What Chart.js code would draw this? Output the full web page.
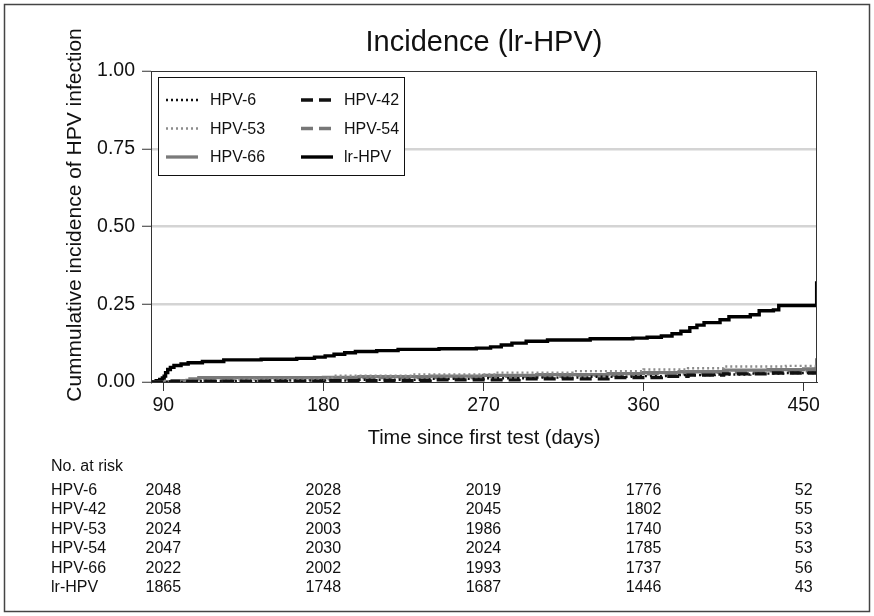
<!DOCTYPE html>
<html>
<head>
<meta charset="utf-8">
<title>Incidence (lr-HPV)</title>
<script src="https://cdn.jsdelivr.net/npm/chart.js@4.4.1/dist/chart.umd.min.js"></script>
<style>
  html, body { margin: 0; padding: 0; background: #fff; }
  #c { display: block; }
</style>
</head>
<body>
<canvas id="c" width="874" height="616"></canvas>
<script>
// Axis ticks
const xTickDays = [90, 180, 270, 360, 450];
const yTickValues = [0, 0.25, 0.5, 0.75, 1];

// Cumulative incidence step curves: day of change and cumulative value
const hpv6Days = [83, 110, 150, 200, 240, 270, 300, 330, 355, 380, 400, 420, 440, 457];
const hpv6Cum  = [0, 0.003, 0.005, 0.007, 0.010, 0.012, 0.014, 0.017, 0.019, 0.022, 0.024, 0.027, 0.029, 0.030];

const hpv42Days = [83, 95, 180, 240, 290, 340, 370, 385, 405, 430, 457];
const hpv42Cum  = [0, 0.002, 0.004, 0.007, 0.010, 0.014, 0.018, 0.022, 0.026, 0.029, 0.030];

const hpv53Days = [83, 100, 130, 182, 185, 230, 277, 320, 360, 385, 405, 440, 457];
const hpv53Cum  = [0, 0.004, 0.008, 0.012, 0.020, 0.024, 0.030, 0.035, 0.040, 0.044, 0.050, 0.052, 0.053];

const hpv54Days = [83, 100, 182, 200, 270, 320, 360, 400, 430, 457];
const hpv54Cum  = [0, 0.005, 0.010, 0.014, 0.018, 0.022, 0.026, 0.032, 0.036, 0.038];

const hpv66Days = [83, 95, 105, 110, 180, 200, 240, 270, 300, 340, 360, 380, 405, 430, 450, 457, 457.3];
const hpv66Cum  = [0, 0.004, 0.010, 0.014, 0.015, 0.017, 0.019, 0.021, 0.024, 0.027, 0.030, 0.033, 0.038, 0.040, 0.042, 0.044, 0.076];

const lrHpvDays = [83, 86, 88, 89.5, 90.5, 91.3, 92.5, 94, 96, 100, 104, 112, 124, 145, 165, 175, 181, 186, 192, 198, 210, 222, 245, 266, 274, 280, 286, 294, 306, 330, 354, 362, 370, 376, 381, 386, 390, 394, 403, 408, 420, 425, 433, 436, 457, 457.3];
const lrHpvCum  = [0, 0.004, 0.008, 0.013, 0.019, 0.030, 0.040, 0.047, 0.053, 0.058, 0.062, 0.066, 0.071, 0.073, 0.076, 0.080, 0.084, 0.089, 0.094, 0.098, 0.101, 0.105, 0.107, 0.109, 0.113, 0.119, 0.125, 0.131, 0.135, 0.139, 0.141, 0.144, 0.148, 0.155, 0.163, 0.175, 0.183, 0.191, 0.200, 0.210, 0.216, 0.229, 0.232, 0.246, 0.246, 0.324];

// Number at risk table
const riskDays = [90, 180, 270, 360, 450];
const riskHpv6  = [2048, 2028, 2019, 1776, 52];
const riskHpv42 = [2058, 2052, 2045, 1802, 55];
const riskHpv53 = [2024, 2003, 1986, 1740, 53];
const riskHpv54 = [2047, 2030, 2024, 1785, 53];
const riskHpv66 = [2022, 2002, 1993, 1737, 56];
const riskLrHpv = [1865, 1748, 1687, 1446, 43];

const FONT = "'Liberation Sans', Arial, Helvetica, sans-serif";
Chart.defaults.font.family = FONT;
Chart.defaults.color = '#111';

function points(days, values) {
  return days.map((d, i) => ({ x: d, y: values[i] }));
}

function curve(label, days, values, color, width, dash) {
  return {
    label,
    data: points(days, values),
    borderColor: color,
    borderWidth: width,
    borderDash: dash,
    stepped: 'before',
    pointRadius: 0,
    fill: false,
    borderCapStyle: 'butt',
  };
}

const datasets = [
  curve('HPV-6',  hpv6Days,  hpv6Cum,  '#111111', 2.4, [2, 3]),
  curve('HPV-42', hpv42Days, hpv42Cum, '#111111', 3.3, [12, 6]),
  curve('HPV-53', hpv53Days, hpv53Cum, '#8c8c8c', 2.4, [2, 3]),
  curve('HPV-54', hpv54Days, hpv54Cum, '#777777', 3.3, [12, 6]),
  curve('HPV-66', hpv66Days, hpv66Cum, '#7a7a7a', 3.3, []),
  curve('lr-HPV', lrHpvDays, lrHpvCum, '#000000', 3.4, []),
];

const riskRows = [
  ['HPV-6', riskHpv6], ['HPV-42', riskHpv42], ['HPV-53', riskHpv53],
  ['HPV-54', riskHpv54], ['HPV-66', riskHpv66], ['lr-HPV', riskLrHpv],
];

// Plot frame, title, y title, inset legend and risk table
const decorations = {
  id: 'decorations',
  afterDraw(chart) {
    const ctx = chart.ctx;
    const a = chart.chartArea;
    const xs = chart.scales.x;
    ctx.save();

    // box around plot area
    ctx.strokeStyle = '#333';
    ctx.lineWidth = 1;
    ctx.setLineDash([]);
    ctx.strokeRect(Math.round(a.left) + 0.5, Math.round(a.top) + 0.5,
                   Math.round(a.right - a.left) - 1, Math.round(a.bottom - a.top));

    // outer frame
    ctx.strokeStyle = '#444';
    ctx.lineWidth = 1.5;
    ctx.strokeRect(4.5, 4.5, 865, 607);

    // title
    ctx.fillStyle = '#111';
    ctx.textAlign = 'center';
    ctx.textBaseline = 'middle';
    ctx.font = `29px ${FONT}`;
    ctx.fillText('Incidence (lr-HPV)', (a.left + a.right) / 2, 43);

    // y axis title
    ctx.save();
    ctx.translate(75, 215);
    ctx.rotate(-Math.PI / 2);
    ctx.font = `21px ${FONT}`;
    ctx.fillText('Cummulative incidence of HPV infection', 0, 0);
    ctx.restore();

    // legend
    const lx = 158, ly = 77, lw = 246, lh = 98;
    ctx.fillStyle = '#fff';
    ctx.fillRect(lx, ly, lw, lh);
    ctx.strokeStyle = '#111';
    ctx.lineWidth = 1;
    ctx.strokeRect(lx + 0.5, ly + 0.5, lw, lh);
    const rowY = [100, 128.5, 157];
    const sampleX = [[166, 198], [301, 333]];
    const textX = [210, 344];
    ctx.font = `16px ${FONT}`;
    ctx.textAlign = 'left';
    chart.data.datasets.forEach((ds, i) => {
      const r = Math.floor(i / 2), c = i % 2;
      const y = rowY[r];
      ctx.strokeStyle = ds.borderColor;
      ctx.lineWidth = ds.borderWidth;
      ctx.setLineDash(ds.borderDash);
      ctx.beginPath();
      ctx.moveTo(sampleX[c][0], y);
      ctx.lineTo(sampleX[c][1], y);
      ctx.stroke();
      ctx.setLineDash([]);
      ctx.fillStyle = '#111';
      ctx.fillText(ds.label, textX[c], y + 1);
    });

    // number at risk table
    ctx.font = `16px ${FONT}`;
    ctx.fillStyle = '#111';
    ctx.textAlign = 'left';
    ctx.fillText('No. at risk', 51, 467);
    riskRows.forEach(([name, vals], r) => {
      const y = 490.5 + r * 19.4;
      ctx.textAlign = 'left';
      ctx.fillText(name, 51, y);
      ctx.textAlign = 'center';
      vals.forEach((v, k) => {
        ctx.fillText(String(v), xs.getPixelForValue(riskDays[k]), y);
      });
    });

    ctx.restore();
  }
};

new Chart(document.getElementById('c'), {
  type: 'line',
  data: { datasets },
  options: {
    responsive: false,
    animation: false,
    devicePixelRatio: 1,
    layout: { padding: { left: 0, right: 57, top: 71, bottom: 162 } },
    plugins: {
      legend: { display: false },
      title: { display: false },
      tooltip: { enabled: false },
    },
    scales: {
      x: {
        type: 'linear',
        min: 83.1,
        max: 457.5,
        afterBuildTicks: s => { s.ticks = xTickDays.map(v => ({ value: v })); },
        afterFit: s => { s.height = 72; },
        ticks: { font: { size: 19.5 }, color: '#111', padding: 3, maxRotation: 0, autoSkip: false },
        grid: { drawOnChartArea: false, drawTicks: true, tickLength: 9, tickColor: '#333', tickWidth: 1 },
        border: { display: true, color: '#333', width: 1 },
        title: { display: true, text: 'Time since first test (days)', font: { size: 20 }, color: '#111', padding: { top: 4, bottom: 4 } },
      },
      y: {
        type: 'linear',
        min: 0,
        max: 1,
        afterBuildTicks: s => { s.ticks = yTickValues.map(v => ({ value: v })); },
        afterFit: s => { s.width = 151; },
        ticks: { font: { size: 19.5 }, color: '#111', padding: 7, callback: v => v.toFixed(2) },
        grid: {
          drawOnChartArea: true,
          drawTicks: true,
          tickLength: 9,
          tickColor: '#333',
          tickWidth: 1,
          color: c => (c.tick && (c.tick.value === 0 || c.tick.value === 1)) ? 'rgba(0,0,0,0)' : '#d4d4d4',
          lineWidth: 2.5,
        },
        border: { display: true, color: '#333', width: 1 },
        title: { display: false },
      },
    },
  },
  plugins: [decorations],
});
</script>
</body>
</html>
